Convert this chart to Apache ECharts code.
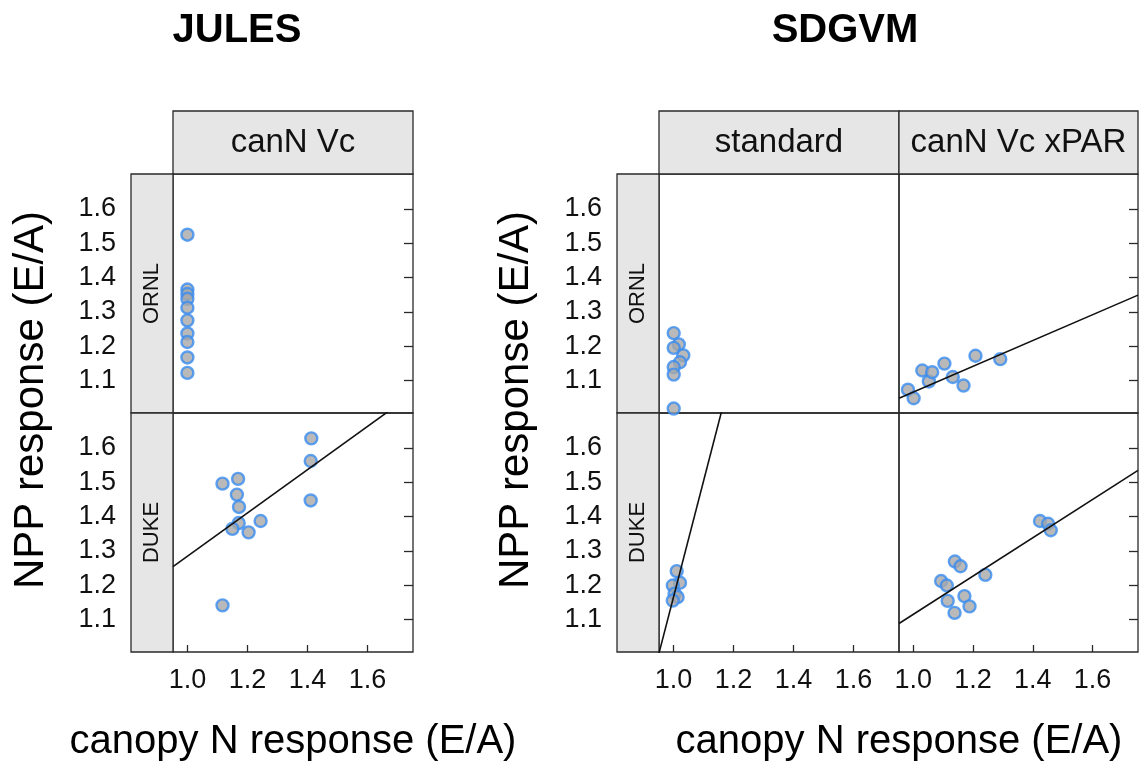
<!DOCTYPE html>
<html>
<head>
<meta charset="utf-8">
<script src="https://cdn.jsdelivr.net/npm/echarts@6/dist/echarts.min.js"></script>
<style>
  html, body { margin: 0; padding: 0; background: #ffffff; }
  #chart { width: 1139px; height: 764px; }
</style>
</head>
<body>
<div id="chart"></div>
<script>
// ---- tick values ----
const xTicks = [1.0, 1.2, 1.4, 1.6];
const yTicks = [1.1, 1.2, 1.3, 1.4, 1.5, 1.6];

// ---- panel labels ----
const modelNames = ['JULES', 'SDGVM'];
const julesRuns = ['canN Vc'];
const sdgvmRuns = ['standard', 'canN Vc xPAR'];
const sites = ['ORNL', 'DUKE'];

// ---- JULES, canN Vc ----
const julesOrnlX = [1.00, 1.00, 1.00, 1.00, 1.00, 1.00, 1.00, 1.00, 1.00, 1.00];
const julesOrnlY = [1.525, 1.365, 1.352, 1.338, 1.312, 1.275, 1.237, 1.212, 1.167, 1.122];
const julesDukeX = [1.117, 1.169, 1.165, 1.172, 1.171, 1.150, 1.204, 1.244, 1.413, 1.411, 1.411, 1.117];
const julesDukeY = [1.496, 1.510, 1.464, 1.428, 1.381, 1.364, 1.354, 1.387, 1.628, 1.562, 1.447, 1.141];

// ---- SDGVM, standard ----
const stdOrnlX = [1.001, 1.018, 1.001, 1.033, 1.022, 1.001, 1.001, 1.001];
const stdOrnlY = [1.238, 1.205, 1.195, 1.173, 1.153, 1.139, 1.117, 1.018];
const stdDukeX = [1.011, 1.022, 0.998, 1.004, 1.014, 0.998];
const stdDukeY = [1.241, 1.207, 1.199, 1.175, 1.165, 1.155];

// ---- SDGVM, canN Vc xPAR ----
const xparOrnlX = [0.982, 1.001, 1.030, 1.052, 1.063, 1.104, 1.132, 1.168, 1.208, 1.291];
const xparOrnlY = [1.073, 1.048, 1.129, 1.097, 1.124, 1.149, 1.110, 1.085, 1.172, 1.162];
const xparDukeX = [1.093, 1.112, 1.115, 1.138, 1.139, 1.158, 1.171, 1.188, 1.241, 1.424, 1.451, 1.460];
const xparDukeY = [1.212, 1.199, 1.154, 1.119, 1.269, 1.255, 1.168, 1.138, 1.230, 1.387, 1.379, 1.360];

// ---- least-squares lines: [julesDuke, stdDuke, xparOrnl, xparDuke] ----
const fitIntercept = [0.653, -2.216, 0.690, 0.557];
const fitSlope     = [0.631,  3.380, 0.376, 0.558];

// ---- axis limits ----
const xLim = [0.952, 1.752];
const yLim = [1.005, 1.702];

// ---- layout ----
const FONT = '"Liberation Sans", Arial, Helvetica, sans-serif';
const INK = '#111111';
const FRAME = '#2a2a2a';
const STRIP = '#e6e6e6';
const rowTop = [174, 413];
const rowH = 239;
const colLeft = [173, 659, 899];
const colW = [240, 240, 239];

// grid index = col * 2 + row
const grids = [];
for (let c = 0; c < 3; c++) {
  for (let r = 0; r < 2; r++) {
    grids.push({
      left: colLeft[c], top: rowTop[r], width: colW[c], height: rowH,
      show: true, borderColor: FRAME, borderWidth: 1.3, backgroundColor: 'transparent'
    });
  }
}

const xAxes = grids.map((g, i) => {
  const bottomRow = (i % 2) === 1;
  return {
    type: 'value', gridIndex: i, min: xLim[0], max: xLim[1],
    splitLine: { show: false },
    axisLine: { show: false },
    axisTick: { show: bottomRow, inside: true, length: 7, customValues: xTicks,
                lineStyle: { color: FRAME, width: 1.3 } },
    axisLabel: { show: bottomRow, customValues: xTicks, margin: 15,
                 fontFamily: FONT, fontSize: 27, color: INK,
                 formatter: v => v.toFixed(1) }
  };
});

const yAxes = [];
const yLeftIndex = [];
grids.forEach((g, i) => {
  const col = Math.floor(i / 2);
  yLeftIndex.push(yAxes.length);
  yAxes.push({
    type: 'value', gridIndex: i, position: 'left', min: yLim[0], max: yLim[1],
    splitLine: { show: false }, axisLine: { show: false }, axisTick: { show: false },
    axisLabel: { show: col < 2, customValues: yTicks, margin: 57,
                 fontFamily: FONT, fontSize: 27, color: INK,
                 formatter: v => v.toFixed(1) }
  });
  if (col !== 1) {
    // ticks drawn along the right edge of the outer columns
    yAxes.push({
      type: 'value', gridIndex: i, position: 'right', min: yLim[0], max: yLim[1],
      splitLine: { show: false }, axisLine: { show: false },
      axisTick: { show: true, inside: true, length: 9, customValues: yTicks,
                  lineStyle: { color: FRAME, width: 1.3 } },
      axisLabel: { show: false }
    });
  }
});

const pointStyle = { color: '#a8a8a8', borderColor: '#3a8cf0', borderWidth: 2.4 };
function pts(xs, ys) { return xs.map((x, k) => [x, ys[k]]); }
function scatter(grid, xs, ys) {
  return {
    type: 'scatter', xAxisIndex: grid, yAxisIndex: yLeftIndex[grid],
    data: pts(xs, ys), symbol: 'circle', symbolSize: 12, clip: false,
    itemStyle: pointStyle, z: 3, silent: true
  };
}
function fitLine(grid, k) {
  const a = fitIntercept[k], b = fitSlope[k];
  return {
    type: 'line', xAxisIndex: grid, yAxisIndex: yLeftIndex[grid],
    data: [[xLim[0], a + b * xLim[0]], [xLim[1], a + b * xLim[1]]],
    showSymbol: false, clip: true, z: 4, silent: true,
    lineStyle: { color: '#111111', width: 1.6 }
  };
}

const series = [
  scatter(0, julesOrnlX, julesOrnlY),
  scatter(1, julesDukeX, julesDukeY),
  scatter(2, stdOrnlX, stdOrnlY),
  scatter(3, stdDukeX, stdDukeY),
  scatter(4, xparOrnlX, xparOrnlY),
  scatter(5, xparDukeX, xparDukeY),
  fitLine(1, 0),
  fitLine(3, 1),
  fitLine(4, 2),
  fitLine(5, 3)
];

// ---- strips, titles and axis names ----
const graphics = [];
function strip(x, y, w, h, label, size, vertical) {
  graphics.push({ type: 'rect', shape: { x: x, y: y, width: w, height: h },
    style: { fill: STRIP, stroke: FRAME, lineWidth: 1.3 }, z: 1 });
  graphics.push({ type: 'text', x: x + w / 2, y: y + h / 2, rotation: vertical ? Math.PI / 2 : 0,
    style: { text: label, font: size + 'px ' + FONT, fill: INK, align: 'center', verticalAlign: 'middle' }, z: 2 });
}
const stripTop = 111, stripTopH = 63, sideW = 42;
// JULES
strip(colLeft[0], stripTop, colW[0], stripTopH, julesRuns[0], 33, false);
sites.forEach((s, r) => strip(colLeft[0] - sideW, rowTop[r], sideW, rowH, s, 22, true));
// SDGVM
sdgvmRuns.forEach((run, c) => strip(colLeft[c + 1], stripTop, colW[c + 1], stripTopH, run, 33, false));
sites.forEach((s, r) => strip(colLeft[1] - sideW, rowTop[r], sideW, rowH, s, 22, true));

function label(x, y, text, font, rot) {
  graphics.push({ type: 'text', x: x, y: y, rotation: rot || 0,
    style: { text: text, font: font, fill: '#000000', align: 'center', verticalAlign: 'middle' }, z: 2 });
}
label(237, 31, modelNames[0], 'bold 40px ' + FONT);
label(845, 31, modelNames[1], 'bold 40px ' + FONT);
label(293, 742, 'canopy N response (E/A)', '40px ' + FONT);
label(899, 742, 'canopy N response (E/A)', '40px ' + FONT);
label(31, 400, 'NPP response (E/A)', '42px ' + FONT, Math.PI / 2);
label(516, 400, 'NPP response (E/A)', '42px ' + FONT, Math.PI / 2);

const chart = echarts.init(document.getElementById('chart'), null, { renderer: 'canvas' });
chart.setOption({
  animation: false,
  backgroundColor: '#ffffff',
  grid: grids,
  xAxis: xAxes,
  yAxis: yAxes,
  series: series,
  graphic: graphics
});
</script>
</body>
</html>
